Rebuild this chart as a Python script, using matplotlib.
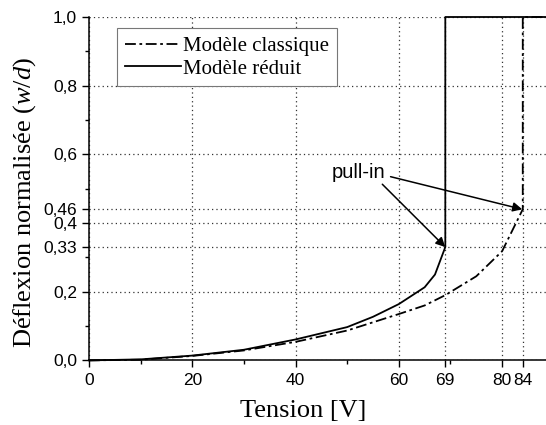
import matplotlib.pyplot as plt
from matplotlib.ticker import FixedLocator, FixedFormatter

plt.rcParams['mathtext.fontset'] = 'custom'
plt.rcParams['mathtext.it'] = 'Liberation Serif:italic'
plt.rcParams['mathtext.rm'] = 'Liberation Serif'

# Modèle réduit (trait plein) : pull-in à 69 V
v_reduit = [0, 10, 20, 30, 40, 50, 55, 60, 65, 67, 69, 69, 90]
w_reduit = [0, 0.003, 0.014, 0.031, 0.061, 0.097, 0.127, 0.164, 0.213, 0.25, 0.33, 1.0, 1.0]

# Modèle classique (tiret-point) : pull-in à 84 V
v_classique = [0, 10, 20, 30, 40, 50, 60, 65, 69, 75, 80, 84, 84, 90]
w_classique = [0, 0.002, 0.013, 0.029, 0.054, 0.087, 0.135, 0.16, 0.19, 0.245, 0.318, 0.44, 1.0, 1.0]

x_ticks = [0, 20, 40, 60, 69, 80, 84]
x_labels = ['0', '20', '40', '60', '69', '80', '84']
y_ticks = [0.0, 0.2, 0.33, 0.4, 0.44, 0.6, 0.8, 1.0]
y_labels = ['0,0', '0,2', '0,33', '0,4', '0,46', '0,6', '0,8', '1,0']

fig = plt.figure(figsize=(5.46, 4.25), dpi=100)
ax = fig.add_axes([0.163, 0.152, 0.837, 0.808])

ax.plot(v_classique, w_classique, color='black', lw=1.3, ls=(0, (6, 2, 1.5, 2)),
        label='Modèle classique', clip_on=False)
ax.plot(v_reduit, w_reduit, color='black', lw=1.3, ls='-',
        label='Modèle réduit', clip_on=False)

ax.set_xlim(0, 88.5)
ax.set_ylim(0, 1.0)

ax.xaxis.set_major_locator(FixedLocator(x_ticks))
ax.xaxis.set_major_formatter(FixedFormatter(x_labels))
ax.xaxis.set_minor_locator(FixedLocator([10, 30, 50, 70]))
ax.yaxis.set_major_locator(FixedLocator(y_ticks))
ax.yaxis.set_major_formatter(FixedFormatter(y_labels))
ax.yaxis.set_minor_locator(FixedLocator([0.1, 0.3, 0.5, 0.7, 0.9]))

for lab in ax.get_xticklabels() + ax.get_yticklabels():
    lab.set_family('Liberation Sans')
    lab.set_fontsize(12.5)

ax.tick_params(which='major', direction='out', length=5, width=1)
ax.tick_params(which='minor', direction='out', length=3, width=1)
ax.tick_params(axis='x', which='both', bottom=True, pad=4)

ax.grid(True, which='major', ls=(0, (1, 2.5)), color='#333333', lw=0.9)
ax.set_axisbelow(True)

ax.spines['top'].set_visible(False)
ax.spines['right'].set_visible(False)
for s in ['left', 'bottom']:
    ax.spines[s].set_linewidth(1.1)

ax.set_xlabel('Tension [V]', family='Liberation Serif', fontsize=19)
ax.xaxis.set_label_coords(0.468, -0.115)
ax.set_ylabel(r'Déflexion normalisée ($w/d$)', family='Liberation Serif',
              fontsize=19)
ax.yaxis.set_label_coords(-0.112, 0.461)

leg = ax.legend(loc='upper left', bbox_to_anchor=(0.061, 0.967), borderaxespad=0,
                prop={'family': 'Liberation Serif', 'size': 15}, fancybox=False,
                framealpha=1, edgecolor='#777777', handlelength=2.7,
                handletextpad=0.1, borderpad=0.38, labelspacing=0.15)
leg.get_frame().set_linewidth(0.8)

ax.text(52.2, 0.548, 'pull-in', family='Liberation Sans', fontsize=14.5,
        ha='center', va='center')
ax.annotate('', xy=(69, 0.33), xytext=(56.8, 0.513),
            arrowprops=dict(arrowstyle='-|>', color='black', lw=1.1,
                            mutation_scale=14, shrinkA=0, shrinkB=0))
ax.annotate('', xy=(83.9, 0.44), xytext=(58.4, 0.535),
            arrowprops=dict(arrowstyle='-|>', color='black', lw=1.1,
                            mutation_scale=14, shrinkA=0, shrinkB=0))

fig.savefig('out.png', dpi=100)
